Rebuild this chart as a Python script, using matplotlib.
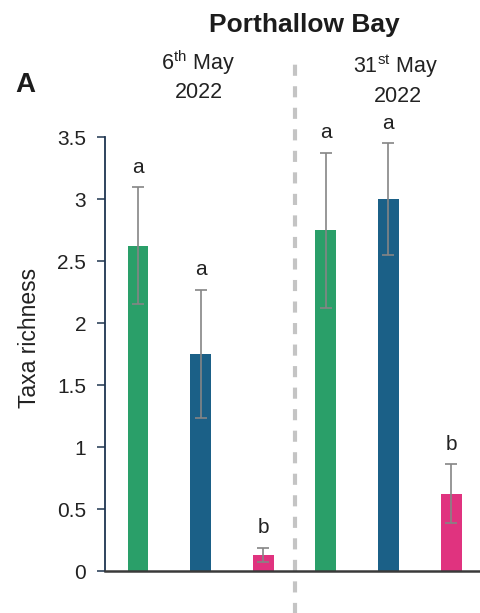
import matplotlib
matplotlib.use("Agg")
import matplotlib.pyplot as plt
import matplotlib.transforms as mtransforms

plt.rcParams['font.family'] = ['Liberation Sans', 'DejaVu Sans']
plt.rcParams['mathtext.fontset'] = 'custom'
plt.rcParams['mathtext.rm'] = 'Liberation Sans'
plt.rcParams['mathtext.it'] = 'Liberation Sans:italic'
plt.rcParams['mathtext.bf'] = 'Liberation Sans:bold'
plt.rcParams['lines.scale_dashes'] = False

# Mean taxa richness per treatment, two sampling dates
means = [2.625, 1.75, 0.13, 2.75, 3.0, 0.625]
errors = [0.47, 0.52, 0.055, 0.625, 0.45, 0.235]
letters = ['a', 'a', 'b', 'a', 'a', 'b']
colors = ['#2a9f69', '#1b6087', '#e0337f', '#2a9f69', '#1b6087', '#e0337f']
yticks = [0, 0.5, 1, 1.5, 2, 2.5, 3, 3.5]
ytick_labels = ['0', '0.5', '1', '1.5', '2', '2.5', '3', '3.5']

text_color = '#222222'

fig = plt.figure(figsize=(4.8, 6.13), dpi=100)
ax = fig.add_axes([0.21875, 0.0685, 0.78125, 0.708])

x = list(range(len(means)))
ax.bar(x, means, width=0.335, color=colors, zorder=2)
ax.errorbar(x, means, yerr=errors, fmt='none', ecolor='#858585',
            elinewidth=1.2, capsize=4.3, capthick=1.2, zorder=3)

for xi, m, e, lab in zip(x, means, errors, letters):
    ax.annotate(lab, xy=(xi, m + e), xytext=(0, 10.5), textcoords='offset points',
                ha='center', va='baseline', fontsize=15, color=text_color)

ax.set_xlim(-0.527, 5.463)
ax.set_ylim(0, 3.5)
ax.set_yticks(yticks)
ax.set_yticklabels(ytick_labels)
ax.set_xticks([])

for side in ('top', 'right'):
    ax.spines[side].set_visible(False)
ax.spines['left'].set_color('#1f3550')
ax.spines['left'].set_linewidth(1.3)
ax.spines['bottom'].set_color('#3a3a3a')
ax.spines['bottom'].set_linewidth(1.8)
ax.tick_params(axis='y', direction='out', length=5.5, width=1.1, color='#1f3550',
               labelsize=15, labelcolor=text_color, pad=8)

# Dashed separator between the two sampling dates
trans = mtransforms.blended_transform_factory(ax.transData, ax.transAxes)
ax.plot([2.5, 2.5], [-0.1, 1.185], transform=trans, clip_on=False,
        color='#c4c4c4', linewidth=3.0, linestyle=(0, (8.0, 7.5)), zorder=1)

fig.text(29 / 480, 0.4486, 'Taxa richness', rotation=90, ha='center', va='center',
         fontsize=16.5, color=text_color)

fig.text(0.633, 0.9483, 'Porthallow Bay', ha='center', va='baseline',
         fontsize=19, fontweight='bold', color='#1c1c1c')
fig.text(0.031, 0.8504, 'A', ha='left', va='baseline',
         fontsize=20, fontweight='bold', color='#1c1c1c')

fig.text(0.4125, 0.8858, r'6$^{\mathrm{th}}$ May', ha='center', va='baseline',
         fontsize=15.5, color=text_color)
fig.text(0.4145, 0.840, '2022', ha='center', va='baseline',
         fontsize=15.5, color=text_color)
fig.text(0.823, 0.8809, r'31$^{\mathrm{st}}$ May', ha='center', va='baseline',
         fontsize=15.5, color=text_color)
fig.text(0.828, 0.8336, '2022', ha='center', va='baseline',
         fontsize=15.5, color=text_color)

fig.savefig('out.png', dpi=100, facecolor='white')
